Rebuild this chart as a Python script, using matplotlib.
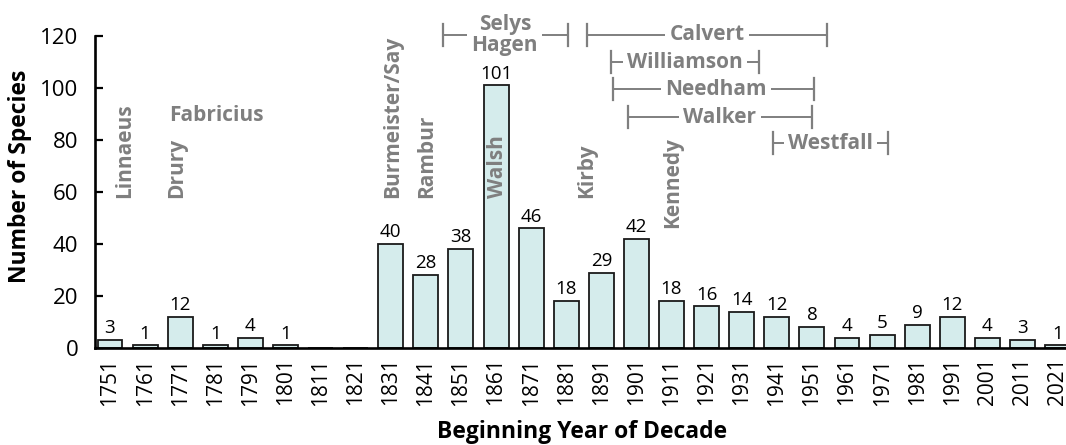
import matplotlib
matplotlib.use("Agg")
import matplotlib.pyplot as plt
import numpy as np

# ---------------- data ----------------
decades = ["1751", "1761", "1771", "1781", "1791", "1801", "1811", "1821", "1831", "1841",
           "1851", "1861", "1871", "1881", "1891", "1901", "1911", "1921", "1931", "1941",
           "1951", "1961", "1971", "1981", "1991", "2001", "2011", "2021"]
species = [3, 1, 12, 1, 4, 1, 0, 0, 40, 28, 38, 101, 46, 18, 29, 42, 18, 16, 14, 12,
           8, 4, 5, 9, 12, 4, 3, 1]

# vertical author names (position along decade axis, bottom of text in species units)
vert_names = ["Linnaeus", "Drury", "Burmeister/Say", "Rambur", "Walsh", "Kirby", "Kennedy"]
vert_x = [0.43, 1.91, 8.06, 9.03, 11.05, 13.59, 16.04]
vert_y = [57.7, 57.7, 57.7, 57.7, 57.7, 57.7, 46.2]

# horizontal labels
fab_name = "Fabricius"
fab_x = 3.02
fab_y = 89.6

# active-period brackets
span_names = ["Selys\nHagen", "Calvert", "Williamson", "Needham", "Walker", "Westfall"]
span_start = [9.49, 13.59, 14.27, 14.33, 14.76, 18.89]
span_end = [13.05, 20.43, 18.49, 20.06, 20.00, 22.17]
span_text_x = [11.25, 17.01, 16.38, 17.26, 17.38, 20.54]
span_y = [120.4, 120.4, 110.0, 99.6, 88.8, 78.8]

# ---------------- style ----------------
plt.rcParams['font.family'] = ['Open Sans', 'DejaVu Sans']
GRAY = '#7f7f7f'

W, H = 1066, 445
fig = plt.figure(figsize=(W / 100, H / 100), dpi=100)
ax = fig.add_axes([95 / W, (H - 348) / H, (W - 95) / W, (348 - 36) / H])

x = np.arange(len(decades))
bars = ax.bar(x, species, width=0.71, color='#d5ecec', edgecolor='#1a1a1a',
              linewidth=1.3, zorder=2)
labels = [str(v) if v > 0 else "" for v in species]
ax.bar_label(bars, labels=labels, padding=2, fontsize=13.5, color='black')

ax.set_ylim(0, 120)
ax.set_xlim(-0.427, 27.24)
ax.set_yticks([0, 20, 40, 60, 80, 100, 120])
ax.set_xticks(x)
ax.set_xticklabels(decades, rotation=90)
ax.tick_params(axis='y', direction='in', length=6, width=1.6, labelsize=16, pad=12)
ax.tick_params(axis='x', length=0, labelsize=15, pad=7)

for s in ['top', 'right']:
    ax.spines[s].set_visible(False)
ax.spines['left'].set_linewidth(1.9)
ax.spines['bottom'].set_linewidth(1.9)
ax.spines['bottom'].set_zorder(3)

# vertical names
for name, vx, vy in zip(vert_names, vert_x, vert_y):
    ax.text(vx, vy, name, rotation=90, ha='center', va='bottom', color=GRAY,
            fontsize=15, fontweight='bold', zorder=4)

ax.text(fab_x, fab_y, fab_name, ha='center', va='center', color=GRAY,
        fontsize=15, fontweight='bold', zorder=4)

# brackets
cap = 4.3
for name, s, e, tx, yy in zip(span_names, span_start, span_end, span_text_x, span_y):
    ax.plot([s, e], [yy, yy], color=GRAY, lw=1.4, zorder=3, clip_on=False)
    ax.plot([s, s], [yy - cap, yy + cap], color=GRAY, lw=1.6, zorder=5, clip_on=False)
    ax.plot([e, e], [yy - cap, yy + cap], color=GRAY, lw=1.6, zorder=5, clip_on=False)
    ax.text(tx, yy, name, ha='center', va='center', color=GRAY, fontsize=15,
            fontweight='bold', zorder=4, linespacing=0.98,
            bbox=dict(facecolor='white', edgecolor='none', pad=3))

fig.text(20 / W, (H - 176) / H, "Number of Species", rotation=90, ha='center',
         va='center', fontsize=16.5, fontweight='bold')
fig.text(582 / W, (H - 432) / H, "Beginning Year of Decade", ha='center',
         va='center', fontsize=16.5, fontweight='bold')

fig.savefig("out.png", dpi=100)
